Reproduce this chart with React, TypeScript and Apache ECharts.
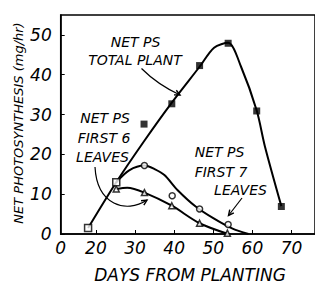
import React, { useEffect, useRef } from 'react';
import * as echarts from 'echarts';

// x-axis range (days from planting) and y-axis range (mg/hr)
const X_MIN = 11;
const X_MAX = 76;
const Y_MAX = 55;

// Observed points
const earlyObserved: [number, number][] = [[18, 1.5], [25.2, 13]];
const totalPlantObserved: [number, number][] = [[32.3, 27.6], [39.4, 32.7], [46.5, 42.3], [53.8, 47.9], [61.1, 30.9], [67.4, 6.9]];
const first7Observed: [number, number][] = [[32.4, 17.2], [39.5, 9.6], [46.5, 6.3], [53.8, 2.4]];
const first6Observed: [number, number][] = [[25.2, 11.3], [32.4, 10.4], [39.4, 7.1], [46.5, 2.7], [53.6, 0.2]];

// Hand-fitted curves as drawn in the figure
const totalPlantCurve: [number, number][] = [[18, 1.5], [25.2, 13], [32.3, 23.3], [39.4, 33], [46.5, 42], [50.2, 46.8], [53.8, 48], [57.1, 42], [61.1, 31], [63.2, 22], [67.4, 7]];
const first7Curve: [number, number][] = [[25.2, 13], [28.5, 16], [32.4, 17.2], [35, 16.3], [37.5, 14.8], [40.9, 11], [45.5, 6.9], [50.1, 3.9], [54.8, 1.4], [59, 0]];
const first6Curve: [number, number][] = [[25.2, 11.3], [28, 11.6], [32.4, 10.4], [39.4, 7.1], [46.5, 2.7], [53.8, 0]];

const FONT = '"DejaVu Sans", sans-serif';

function arrowHead(tx: number, ty: number, fx: number, fy: number, len = 6, spread = 0.45) {
  const a = Math.atan2(ty - fy, tx - fx);
  return [
    [tx - len * Math.cos(a - spread), ty - len * Math.sin(a - spread)],
    [tx, ty],
    [tx - len * Math.cos(a + spread), ty - len * Math.sin(a + spread)],
  ];
}

function label(text: string, x: number, y: number) {
  return {
    type: 'text',
    x,
    y,
    style: {
      text,
      fill: '#000',
      fontSize: 14,
      fontStyle: 'italic',
      fontFamily: FONT,
      align: 'center',
      verticalAlign: 'middle',
    },
  };
}

export default function App() {
  const ref = useRef<HTMLDivElement>(null);
  useEffect(() => {
    if (!ref.current) return;
    const chart = echarts.init(ref.current, null, { renderer: 'svg' });
    const lineStyle = { color: '#000', width: 2 };
    const open = { color: '#fff', borderColor: '#000', borderWidth: 1.5 };
    chart.setOption({
      animation: false,
      backgroundColor: '#fff',
      grid: { left: 60.7, top: 15, right: -27.5, bottom: 51, show: true, borderColor: '#000', borderWidth: 1.5 },
      xAxis: {
        type: 'value',
        min: X_MIN,
        max: X_MAX,
        splitLine: { show: false },
        axisLine: { lineStyle: { color: '#000', width: 1.5 } },
        axisTick: { inside: true, length: 4, lineStyle: { color: '#000' } },
        axisLabel: {
          margin: 5,
          color: '#000',
          fontSize: 17,
          fontStyle: 'italic',
          fontFamily: FONT,
          showMaxLabel: false,
          formatter: (v: number) => (v === X_MIN ? '0' : v % 10 === 0 ? String(v) : ''),
        },
      },
      yAxis: {
        type: 'value',
        min: 0,
        max: Y_MAX,
        interval: 10,
        splitLine: { show: false },
        axisLine: { show: true, lineStyle: { color: '#000', width: 1.5 } },
        axisTick: { show: true, inside: true, length: 4, lineStyle: { color: '#000' } },
        axisLabel: {
          margin: 9,
          color: '#000',
          fontSize: 17,
          fontStyle: 'italic',
          fontFamily: FONT,
          showMaxLabel: false,
        },
      },
      series: [
        { type: 'line', data: totalPlantCurve, smooth: 0.3, showSymbol: false, lineStyle, z: 2 },
        { type: 'line', data: first7Curve, smooth: 0.3, showSymbol: false, lineStyle, z: 2 },
        { type: 'line', data: first6Curve, smooth: 0.3, showSymbol: false, lineStyle, z: 2 },
        { type: 'scatter', data: totalPlantObserved, symbol: 'rect', symbolSize: 7, itemStyle: { color: '#000' }, z: 3 },
        { type: 'scatter', data: first7Observed, symbol: 'circle', symbolSize: 6, itemStyle: open, z: 3 },
        { type: 'scatter', data: first6Observed, symbol: 'triangle', symbolSize: 6, itemStyle: open, z: 3 },
        { type: 'scatter', data: earlyObserved, symbol: 'rect', symbolSize: 7, itemStyle: open, z: 4 },
      ],
      graphic: [
        label('NET PS', 135.5, 42),
        label('TOTAL PLANT', 135, 60),
        label('NET PS', 105, 118),
        label('FIRST 6', 104, 138),
        label('LEAVES', 102.5, 157),
        label('NET PS', 219.5, 152),
        label('FIRST 7', 221, 172),
        label('LEAVES', 240.5, 190),
        {
          type: 'bezierCurve',
          shape: { x1: 141.5, y1: 68.5, x2: 180, y2: 95, cpx1: 152, cpy1: 79, cpx2: 165, cpy2: 88 },
          style: { stroke: '#000', lineWidth: 1.2, fill: 'none' },
        },
        { type: 'polyline', shape: { points: arrowHead(180, 95, 168, 89) }, style: { stroke: '#000', lineWidth: 1.4, fill: 'none' } },
        {
          type: 'bezierCurve',
          shape: { x1: 95, y1: 167, x2: 147, y2: 200, cpx1: 97, cpy1: 205, cpx2: 126, cpy2: 214 },
          style: { stroke: '#000', lineWidth: 1.2, fill: 'none' },
        },
        { type: 'polyline', shape: { points: arrowHead(147, 200, 136, 207) }, style: { stroke: '#000', lineWidth: 1.4, fill: 'none' } },
        {
          type: 'line',
          shape: { x1: 242, y1: 198, x2: 228.5, y2: 215.5 },
          style: { stroke: '#000', lineWidth: 1.2 },
        },
        { type: 'polyline', shape: { points: arrowHead(228.5, 215.5, 242, 198) }, style: { stroke: '#000', lineWidth: 1.4, fill: 'none' } },
        {
          type: 'text',
          x: 18,
          y: 123,
          rotation: Math.PI / 2,
          style: {
            text: 'NET PHOTOSYNTHESIS (mg/hr)',
            fill: '#000',
            fontSize: 13,
            fontStyle: 'italic',
            fontFamily: FONT,
            align: 'center',
            verticalAlign: 'middle',
          },
        },
        {
          type: 'text',
          x: 190,
          y: 275,
          style: {
            text: 'DAYS FROM PLANTING',
            fill: '#000',
            fontSize: 17,
            fontStyle: 'italic',
            fontFamily: FONT,
            align: 'center',
            verticalAlign: 'middle',
          },
        },
      ],
    });
    return () => chart.dispose();
  }, []);
  return <div ref={ref} style={{ position: 'fixed', left: 0, top: 0, width: 315, height: 285 }} />;
}
